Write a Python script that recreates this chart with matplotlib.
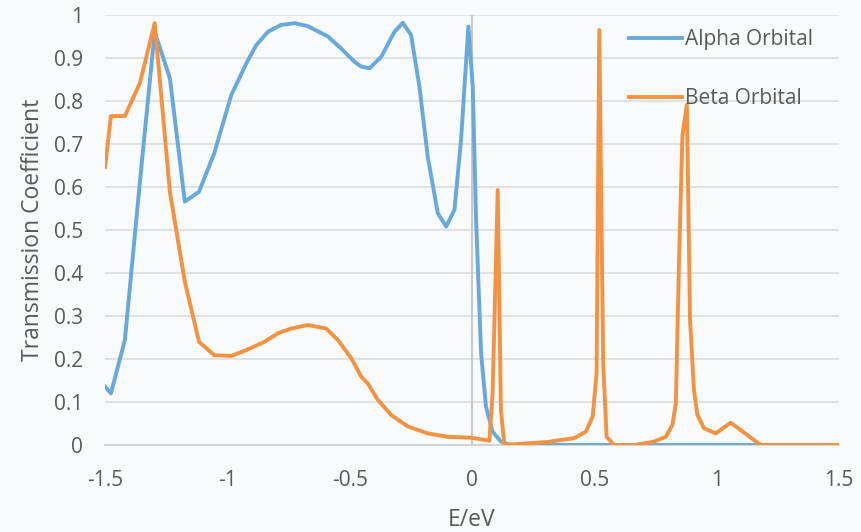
import numpy as np
import matplotlib.pyplot as plt

plt.rcParams['font.family'] = ['Open Sans', 'DejaVu Sans']

# datos
alpha_E = [-1.50, -1.476, -1.419, -1.358, -1.297, -1.235, -1.174, -1.116, -1.054, -0.984,
           -0.922, -0.882, -0.834, -0.780, -0.725, -0.671, -0.589, -0.535, -0.480, -0.453,
           -0.419, -0.371, -0.317, -0.283, -0.249, -0.215, -0.181, -0.140, -0.106, -0.072,
           -0.045, -0.015, 0.003, 0.016, 0.037, 0.057, 0.084, 0.118, 0.159, 0.5, 1.0, 1.5]
alpha_T = [0.136, 0.120, 0.244, 0.609, 0.961, 0.853, 0.566, 0.589, 0.678, 0.814,
           0.888, 0.930, 0.961, 0.977, 0.981, 0.974, 0.950, 0.922, 0.891, 0.880,
           0.876, 0.903, 0.961, 0.982, 0.953, 0.833, 0.670, 0.539, 0.508, 0.547,
           0.709, 0.973, 0.833, 0.531, 0.213, 0.089, 0.031, 0.008, 0.0, 0.0, 0.0, 0.0]

beta_E = [-1.50, -1.476, -1.419, -1.358, -1.297, -1.235, -1.174, -1.116, -1.054, -0.984,
          -0.922, -0.848, -0.793, -0.739, -0.671, -0.596, -0.548, -0.494, -0.453, -0.426,
          -0.385, -0.331, -0.262, -0.181, -0.099, -0.004, 0.071, 0.084, 0.105, 0.118,
          0.132, 0.200, 0.309, 0.418, 0.465, 0.493, 0.509, 0.520, 0.536, 0.550,
          0.581, 0.663, 0.744, 0.792, 0.819, 0.833, 0.846, 0.860, 0.878, 0.891,
          0.907, 0.921, 0.948, 0.996, 1.057, 1.180, 1.5]
beta_T = [0.647, 0.765, 0.765, 0.841, 0.981, 0.589, 0.380, 0.240, 0.209, 0.207,
          0.221, 0.240, 0.260, 0.271, 0.279, 0.271, 0.244, 0.202, 0.159, 0.143,
          0.105, 0.070, 0.043, 0.027, 0.019, 0.017, 0.010, 0.120, 0.593, 0.081,
          0.0, 0.003, 0.007, 0.016, 0.031, 0.066, 0.167, 0.965, 0.190, 0.019,
          0.0, 0.0, 0.008, 0.019, 0.047, 0.097, 0.430, 0.721, 0.791, 0.291,
          0.128, 0.070, 0.039, 0.027, 0.052, 0.0, 0.0]

xticks = [-1.5, -1, -0.5, 0, 0.5, 1, 1.5]
xtick_labels = ['-1.5', '-1', '-0.5', '0', '0.5', '1', '1.5']
yticks = [0, 0.1, 0.2, 0.3, 0.4, 0.5, 0.6, 0.7, 0.8, 0.9, 1]
ytick_labels = ['0', '0.1', '0.2', '0.3', '0.4', '0.5', '0.6', '0.7', '0.8', '0.9', '1']

bg = '#F8FAFC'
gris_texto = '#595959'

fig = plt.figure(figsize=(8.61, 5.32), dpi=100, facecolor=bg)
ax = fig.add_axes([0.122, 0.1635, 0.8525, 0.8083], facecolor=bg)

ax.plot(alpha_E, alpha_T, color='#67A9DC', lw=2.8, label='Alpha Orbital', zorder=3)
ax.plot(beta_E, beta_T, color='#F39241', lw=2.8, label='Beta Orbital', zorder=4)

ax.set_xlim(-1.5, 1.5)
ax.set_ylim(0, 1)
ax.set_xticks(xticks)
ax.set_xticklabels(xtick_labels)
ax.set_yticks(yticks)
ax.set_yticklabels(ytick_labels)
ax.tick_params(axis='both', length=0, labelsize=15, colors=gris_texto)
ax.tick_params(axis='x', pad=18)
ax.tick_params(axis='y', pad=16)

ax.grid(axis='y', color='#DCDCDC', lw=1.2)
ax.set_axisbelow(True)
for s in ['top', 'right', 'left']:
    ax.spines[s].set_visible(False)
ax.spines['bottom'].set_color('#CFCFCF')
ax.spines['bottom'].set_linewidth(1.2)
ax.axvline(0, color='#C8C8C8', lw=1.5, zorder=1)

ax.set_xlabel('E/eV', fontsize=16.5, color=gris_texto, labelpad=12.5)
ax.set_ylabel('Transmission Coefficient', fontsize=16.5, color=gris_texto, labelpad=6)

leg = ax.legend(loc='upper left', bbox_to_anchor=(0.688, 1.01), frameon=False,
                fontsize=15, labelspacing=1.8, handlelength=2.55, handletextpad=0.15)
for t in leg.get_texts():
    t.set_color(gris_texto)

fig.savefig('out.png', dpi=100, facecolor=bg)
